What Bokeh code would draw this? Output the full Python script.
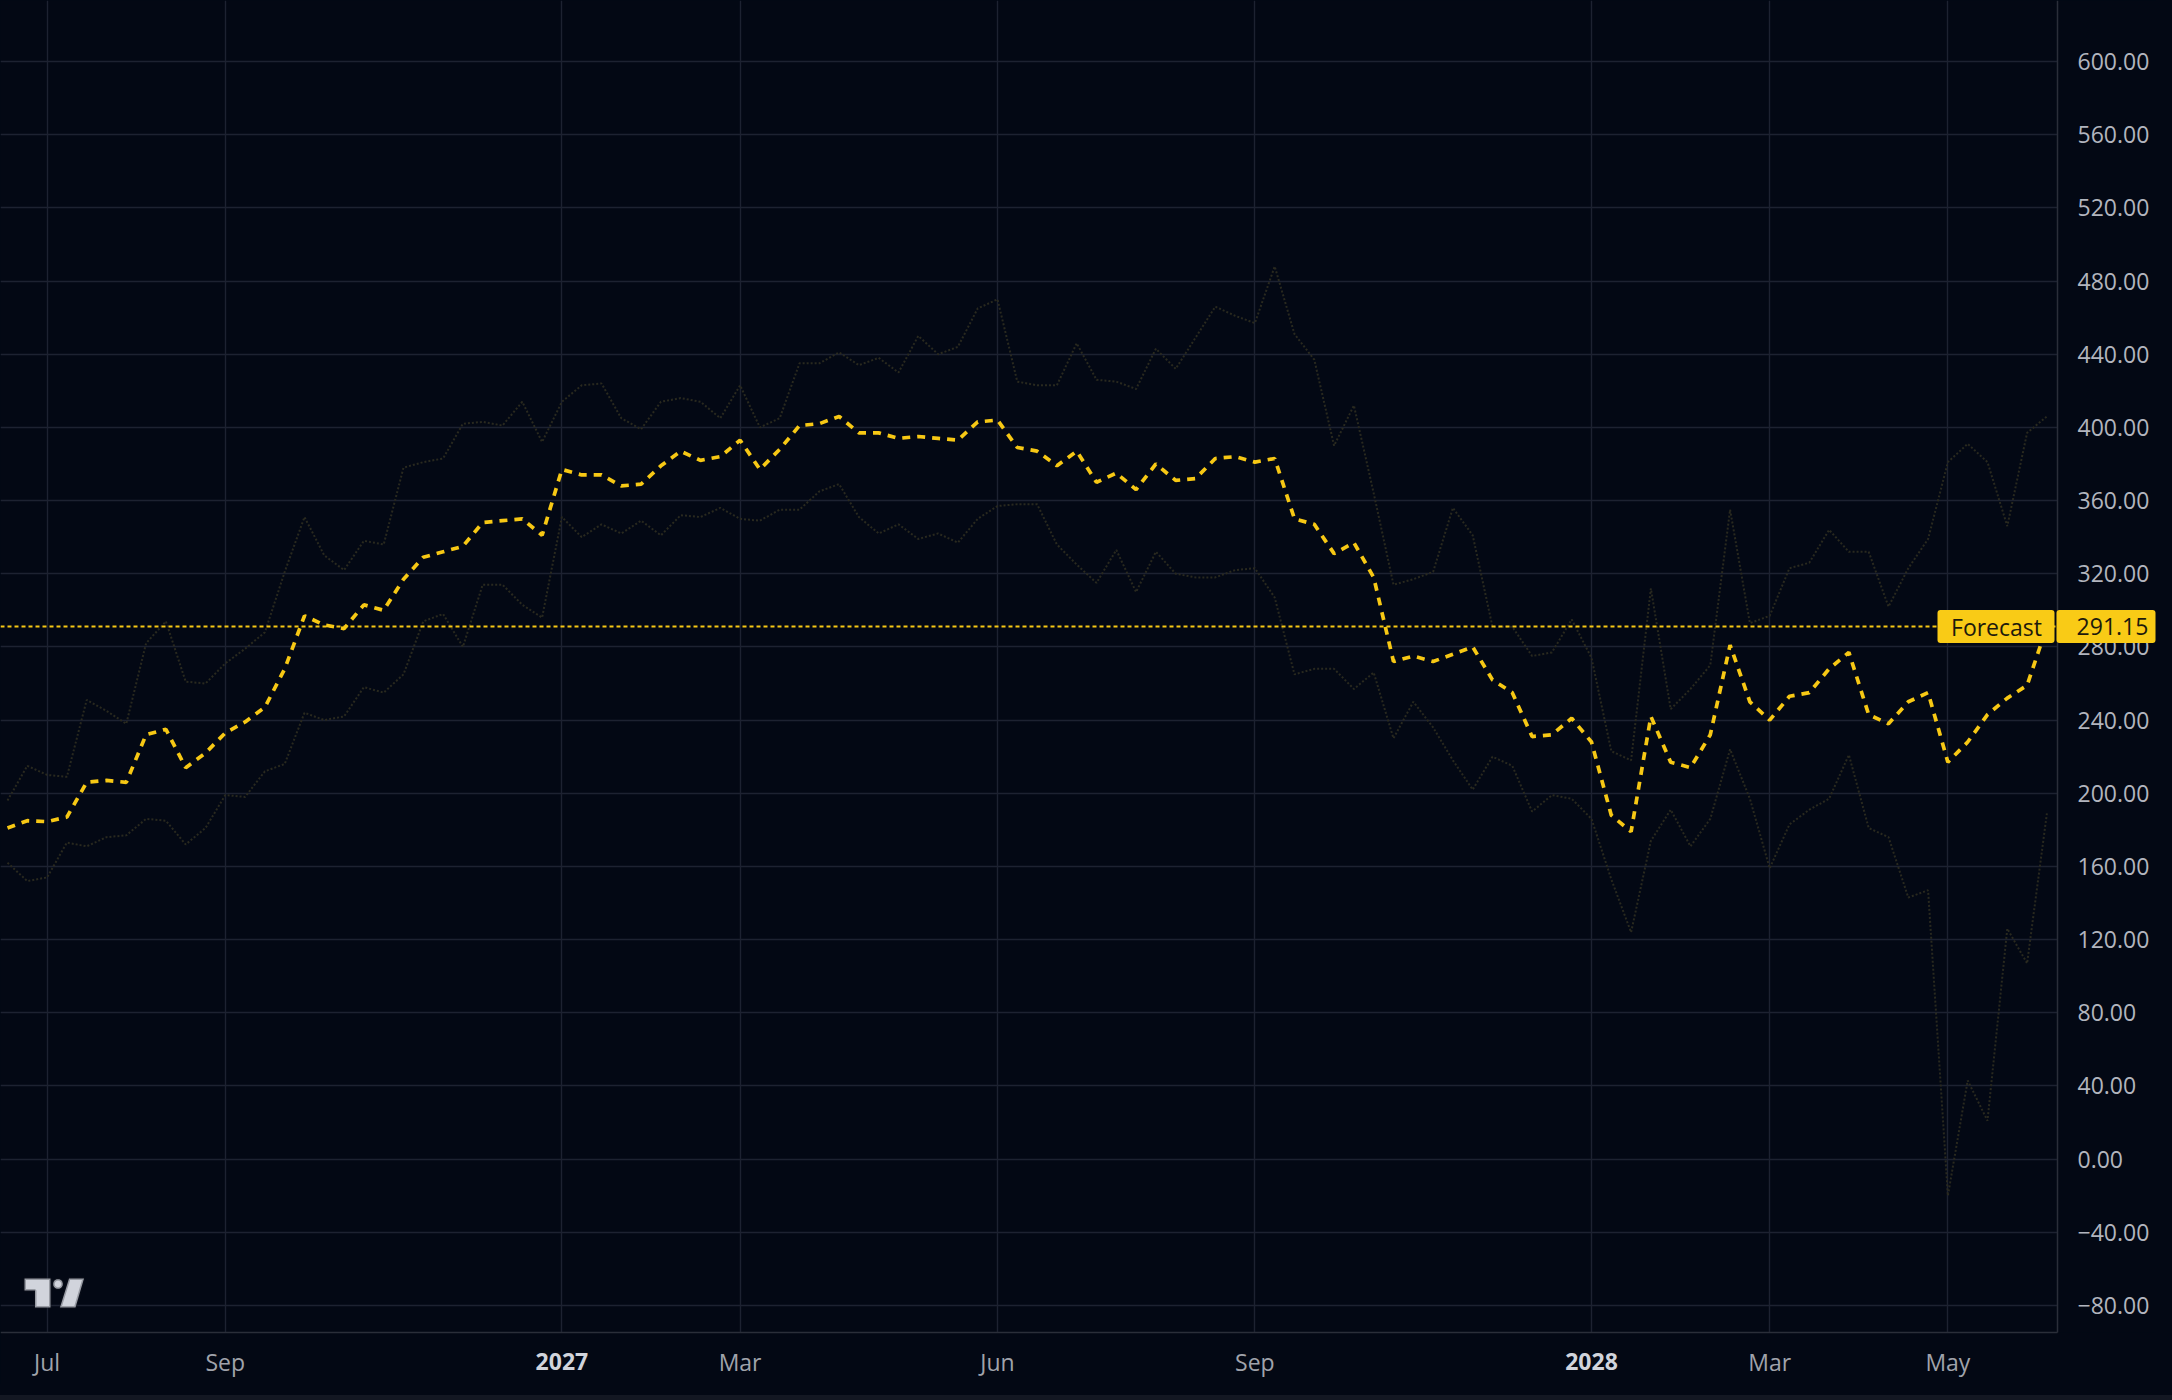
import numpy as np
import pandas as pd
from bokeh.plotting import figure
from bokeh.models import (FixedTicker, CustomJSTickFormatter, Span, Label,
                          PolyAnnotation, BoxAnnotation, ColumnDataSource, Range1d)
from bokeh.embed import file_html
from bokeh.resources import INLINE

# ---------------- data ----------------
start_date = "2026-06-20"
n_weeks = 104

forecast_mean = [
    181, 185, 184.5, 187, 206, 207, 206, 232, 235, 214,
    222, 233, 239, 247, 268, 297, 292, 290, 303, 300,
    317, 329, 332, 335, 348, 349, 350, 341, 377, 374,
    374, 368, 369, 379, 387, 382, 384, 393, 377, 388,
    401, 402, 406, 397, 397, 394, 395, 394, 393, 403,
    404, 389, 387, 379, 387, 370, 375, 366, 380, 371,
    372, 383, 384, 381, 383, 350, 347, 331, 337, 318,
    272, 275, 272, 276, 280, 262, 255, 231, 232, 241,
    228, 188, 179, 242, 217, 214, 232, 281, 250, 240,
    253, 255, 268, 277, 243, 238, 250, 255, 217, 228,
    243, 252, 259, 291.15,
]

upper_band = [
    196, 215, 210, 209, 251, 245, 238, 282, 294, 261,
    260, 271, 279, 288, 321, 351, 330, 322, 338, 336,
    378, 381, 383, 402, 403, 401, 414, 392, 414, 423,
    424, 405, 399, 414, 416, 414, 405, 423, 400, 405,
    435, 435, 441, 434, 438, 430, 450, 440, 444, 465,
    470, 425, 423, 423, 446, 426, 425, 421, 443, 432,
    449, 466, 461, 457, 488, 451, 437, 390, 412, 364,
    314, 317, 321, 356, 341, 291, 291, 275, 277, 295,
    274, 223, 218, 312, 246, 257, 270, 355, 293, 297,
    323, 326, 344, 332, 332, 302, 323, 339, 381, 391,
    381, 346, 397, 406,
]

lower_band = [
    162, 152, 154, 173, 171, 176, 177, 186, 185, 172,
    181, 199, 198, 212, 216, 244, 240, 242, 258, 255,
    265, 294, 298, 280, 314, 314, 303, 296, 351, 340,
    347, 342, 349, 341, 352, 351, 356, 350, 349, 355,
    355, 365, 369, 351, 342, 347, 339, 342, 337, 350,
    357, 358, 358, 336, 325, 315, 333, 310, 332, 320,
    318, 318, 322, 323, 307, 265, 268, 268, 257, 266,
    230, 250, 236, 218, 202, 220, 215, 190, 199, 197,
    186, 153, 124, 174, 191, 171, 186, 224, 197, 159,
    183, 191, 197, 221, 181, 176, 143, 147, -20, 43,
    21, 126, 107, 189,
]

forecast_value = 291.15
forecast_text = "Forecast"

tick_months = [(2026, 7), (2026, 9), (2027, 1), (2027, 3), (2027, 6),
               (2027, 9), (2028, 1), (2028, 3), (2028, 5)]
tick_labels = ["Jul", "Sep", "2027", "Mar", "Jun", "Sep", "2028", "Mar", "May"]
y_ticks = list(range(-80, 601, 40))

# ---------------- styling ----------------
BG = "#030814"
GRID = "#1d2231"
AXIS = "#2a2e39"
STRIP = "#131722"
YELLOW = "#f7c814"
BOX_YELLOW = "#f9cb16"
TAG_TEXT = "#1d1a0c"
BAND = "#29291f"
FONT = "Open Sans"

FIG_W, FIG_H = 2156, 1384          # whole figure
PLOT_W, PLOT_H = 2057, 1332        # data area inside it

dates = pd.date_range(start_date, periods=n_weeks, freq="7D")
src = ColumnDataSource(dict(date=dates, mean=forecast_mean,
                            upper=upper_band, lower=lower_band))

def ms(ts):
    return pd.Timestamp(ts).value / 1e6

x_start = ms(dates[0] - pd.Timedelta(hours=59.4))
x_end_plot = ms(dates[0] + pd.Timedelta(days=724.75))
y_top, y_bot_plot = 633.34, -94.76
x_end_full = x_start + FIG_W / PLOT_W * (x_end_plot - x_start)
y_bot_full = y_top - FIG_H / PLOT_H * (y_top - y_bot_plot)

def px_x(px):   # picture pixel -> data x
    return x_start + px / PLOT_W * (x_end_plot - x_start)

def px_y(py):   # picture pixel -> data y
    return y_top - py / PLOT_H * (y_top - y_bot_plot)

p = figure(x_axis_type="datetime", y_axis_location="right",
           width=FIG_W, height=FIG_H,
           x_range=Range1d(x_start, x_end_full), y_range=Range1d(y_bot_full, y_top),
           output_backend="svg", toolbar_location=None, tools="")
p.min_border_left = 0
p.min_border_top = 0
p.min_border_right = 0
p.min_border_bottom = 0
p.background_fill_color = BG
p.border_fill_color = BG
p.outline_line_color = None

# ticks
tick_ms = []
for (yy, mm) in tick_months:
    first = [d for d in dates if d.year == yy and d.month == mm][0]
    tick_ms.append(ms(first))
xt = FixedTicker(ticks=tick_ms)
p.xaxis.ticker = xt
p.xgrid.ticker = xt
overrides = {}
for t, lab in zip(tick_ms, tick_labels):
    overrides[t] = "" if lab.isdigit() else lab
p.xaxis.major_label_overrides = overrides

yt = FixedTicker(ticks=y_ticks)
p.yaxis.ticker = yt
p.ygrid.ticker = yt
p.yaxis.formatter = CustomJSTickFormatter(
    code="return (tick < 0 ? '\u2212' : '') + Math.abs(tick).toFixed(2);")

p.xaxis.fixed_location = y_bot_plot
p.xaxis.bounds = (x_start, x_end_plot)
p.yaxis.fixed_location = x_end_plot
p.yaxis.bounds = (y_bot_plot, y_top)

for ax in (p.xaxis[0], p.yaxis[0]):
    ax.axis_line_color = AXIS
    ax.axis_line_width = 1.5
    ax.major_tick_line_color = None
    ax.minor_tick_line_color = None
    ax.major_label_text_font = FONT
    ax.major_label_text_font_size = "23px"
p.xaxis.major_label_text_color = "#a0a3ab"
p.xaxis.major_label_standoff = 7
p.yaxis.major_label_text_color = "#b2b5be"
p.yaxis.major_label_standoff = 14

for g in (p.xgrid[0], p.ygrid[0]):
    g.grid_line_color = GRID
    g.grid_line_width = 1.4

# masks: keep the grid inside the data area
p.add_layout(BoxAnnotation(left=x_end_plot, fill_color=BG, fill_alpha=1,
                           line_color=None, level="underlay"))
p.add_layout(BoxAnnotation(top=y_bot_plot, fill_color=BG, fill_alpha=1,
                           line_color=None, level="underlay"))

# series
p.line("date", "upper", source=src, line_color=BAND, line_width=2, line_dash="2 2")
p.line("date", "lower", source=src, line_color=BAND, line_width=2, line_dash="2 2")
p.line("date", "mean", source=src, line_color=YELLOW, line_width=3.7, line_dash="8 7")

p.add_layout(Span(location=forecast_value, dimension="width", line_color=YELLOW,
                  line_width=2, line_dash="4 3"))

# bold year labels below the axis
for t, lab in zip(tick_ms, tick_labels):
    if lab.isdigit():
        p.add_layout(Label(x=t, y=px_y(1361), text=lab, text_align="center",
                           text_baseline="middle", text_font=FONT,
                           text_font_size="23px", text_font_style="bold",
                           text_color="#d1d4dc"))

# forecast tags
half_h = 16.5 * (y_top - y_bot_plot) / PLOT_H
p.add_layout(BoxAnnotation(left=px_x(1937), right=px_x(2054),
                           bottom=forecast_value - half_h, top=forecast_value + half_h,
                           fill_color=BOX_YELLOW, fill_alpha=1, line_color=None,
                           border_radius=3))
p.add_layout(BoxAnnotation(left=px_x(2056), right=px_x(2155),
                           bottom=forecast_value - half_h, top=forecast_value + half_h,
                           fill_color=BOX_YELLOW, fill_alpha=1, line_color=None,
                           border_radius=3))
p.add_layout(Label(x=px_x(1996), y=forecast_value, text=forecast_text,
                   text_align="center", text_baseline="middle", text_font=FONT,
                   text_font_size="23px", text_color=TAG_TEXT))
p.add_layout(Label(x=px_x(2112), y=forecast_value, text=f"{forecast_value:.2f}",
                   text_align="center", text_baseline="middle", text_font=FONT,
                   text_font_size="23px", text_color=TAG_TEXT))

# watermark logo
LOGO_FILL, LOGO_LINE = "#d1d4dc", "#131722"
left_piece = [(24, 1278), (50, 1278), (50, 1307), (34.5, 1307), (34.5, 1290), (24, 1290)]
slant = [(68.5, 1278), (83.5, 1278), (75, 1307), (59.5, 1307)]
ang = np.linspace(0, 2 * np.pi, 25)
dot = [(57.5 + 4.8 * np.cos(a), 1283.5 + 4.8 * np.sin(a)) for a in ang]
for shape in (left_piece, slant, dot):
    p.add_layout(PolyAnnotation(xs=[px_x(a) for a, b in shape],
                                ys=[px_y(b) for a, b in shape],
                                fill_color=LOGO_FILL, fill_alpha=1,
                                line_color=LOGO_LINE, line_width=3))

html = file_html(p, INLINE, title="Forecast")
css = ("<style>html,body{background:linear-gradient(to bottom,%s 0px,%s 1395px,"
       "%s 1395px) no-repeat;background-color:%s;}</style></head>" % (BG, BG, STRIP, STRIP))
html = html.replace("</head>", css, 1)
open("out.html", "w").write(html)
